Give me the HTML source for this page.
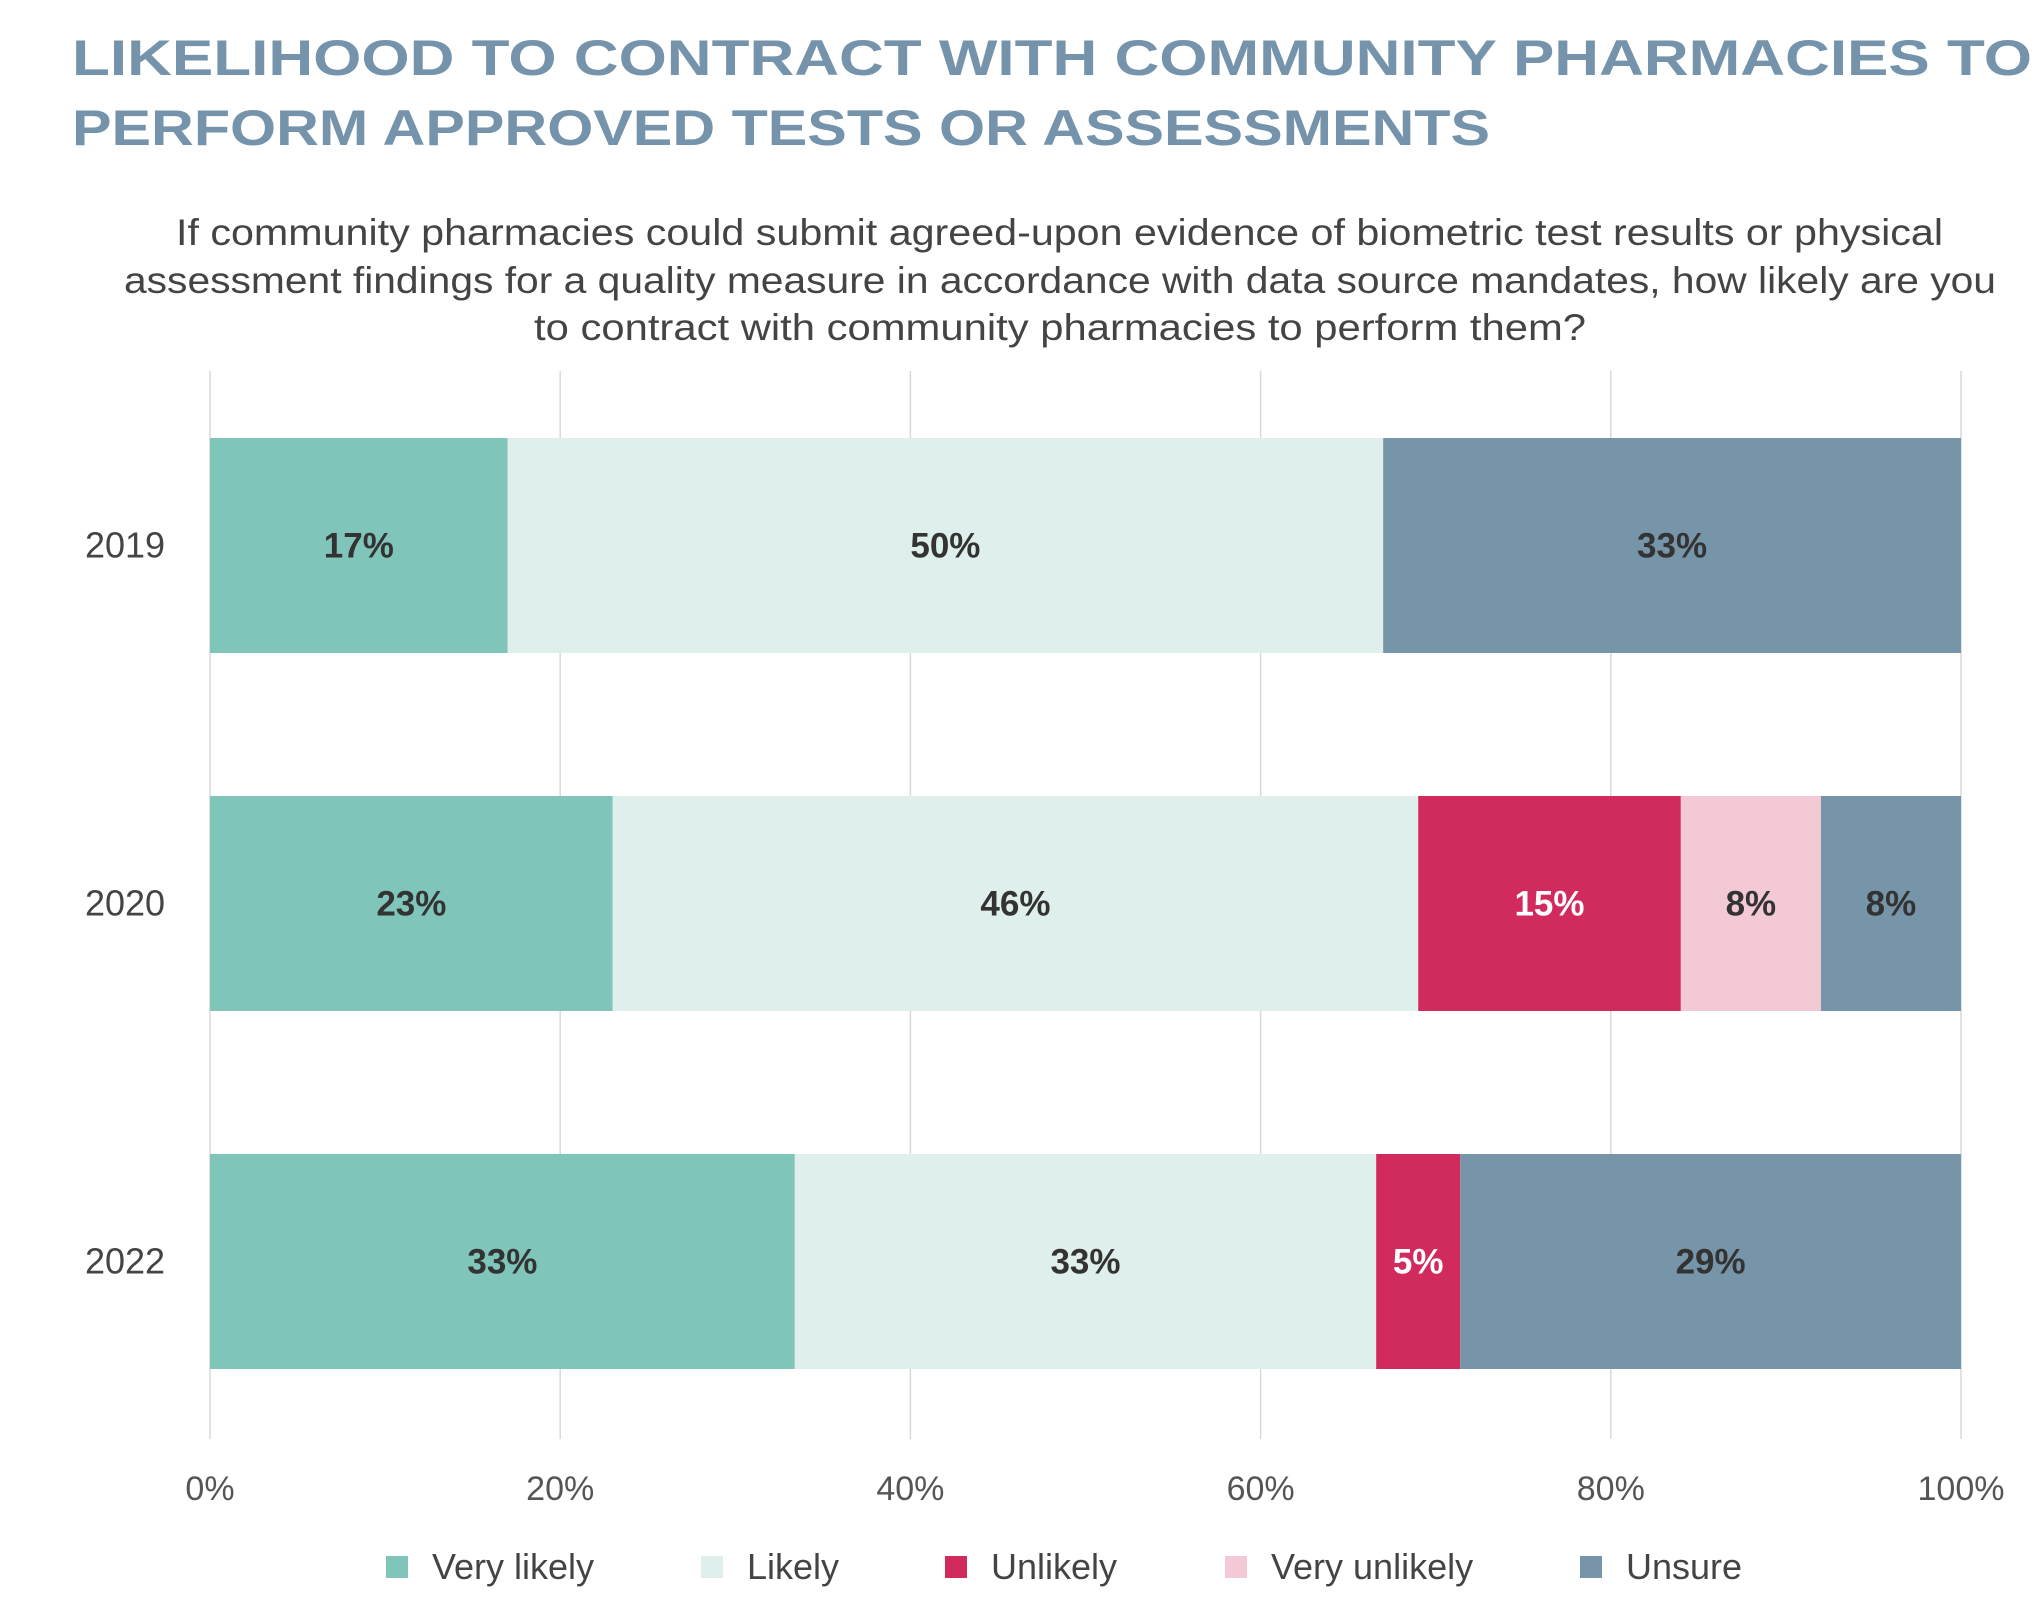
<!DOCTYPE html>
<html><head><meta charset="utf-8"><style>
html,body{margin:0;padding:0;background:#fff;}
svg{display:block;font-family:"Liberation Sans",sans-serif;}
</style></head><body>
<svg id="chart" width="2042" height="1606" viewBox="0 0 2042 1606" xmlns="http://www.w3.org/2000/svg">
<g fill="#7594ab" font-weight="bold" font-size="50">
<text x="72" y="75" textLength="1960" lengthAdjust="spacingAndGlyphs">LIKELIHOOD TO CONTRACT WITH COMMUNITY PHARMACIES TO</text>
<text x="72" y="145" textLength="1418" lengthAdjust="spacingAndGlyphs">PERFORM APPROVED TESTS OR ASSESSMENTS</text>
</g>
<g fill="#444" font-size="37">
<text x="176" y="245" textLength="1767" lengthAdjust="spacingAndGlyphs">If community pharmacies could submit agreed-upon evidence of biometric test results or physical</text>
<text x="124" y="293" textLength="1872" lengthAdjust="spacingAndGlyphs">assessment findings for a quality measure in accordance with data source mandates, how likely are you</text>
<text x="534" y="340" textLength="1052" lengthAdjust="spacingAndGlyphs">to contract with community pharmacies to perform them?</text>
</g>
<g id="grid"></g>
<g id="bars"></g>
<g id="labels"></g>
<g id="legend"></g>
</svg>
<script>
const years = ["2019","2020","2022"];
const seriesNames = ["Very likely","Likely","Unlikely","Very unlikely","Unsure"];
const veryLikely = [17, 23, 33.4];
const likely = [50, 46, 33.2];
const unlikely = [0, 15, 4.8];
const veryUnlikely = [0, 8, 0];
const unsure = [33, 8, 28.6];
const ticks = [0,20,40,60,80,100];
const tickLabels = ["0%","20%","40%","60%","80%","100%"];

const colors = ["#80c5ba","#dff0ec","#d12b5e","#f3c9d6","#7795a8"];
const labelColors = ["#333","#333","#fff","#333","#333"];
const series = [veryLikely, likely, unlikely, veryUnlikely, unsure];
const NS = "http://www.w3.org/2000/svg";
const X0 = 210, X1 = 1961, YT = 371, YB = 1439;
const x = v => X0 + (X1 - X0) * v / 100;
const barH = 215;
const y = i => 438 + i * 358;

function mk(tag, attrs, parent){const e=document.createElementNS(NS,tag);for(const k in attrs)e.setAttribute(k,attrs[k]);parent.appendChild(e);return e;}
const grid=document.getElementById('grid'), bars=document.getElementById('bars'), labels=document.getElementById('labels'), legend=document.getElementById('legend');

ticks.forEach((t,i)=>{
  const l=mk('line',{x1:x(t),x2:x(t),y1:YT,y2:YB,stroke:'#d9d9d9','stroke-width':1.5},grid);
  
  
  const tx=mk('text',{x:x(t),y:1500,'text-anchor':'middle','font-size':34,fill:'#555'},grid);
  tx.textContent=tickLabels[i];
  
  
});

years.forEach((yr,i)=>{
  const yl=mk('text',{x:125,y:y(i)+barH/2+12,'text-anchor':'middle','font-size':36,fill:'#444'},labels);
  yl.textContent=yr;
  
  
  let acc=0;
  series.forEach((s,j)=>{
    const v=s[i];
    if(v>0){
      const r=mk('rect',{x:x(acc),y:y(i),width:x(acc+v)-x(acc),height:barH,fill:colors[j]},bars);
      
      
      const t=mk('text',{x:(x(acc)+x(acc+v))/2,y:y(i)+barH/2+12,'text-anchor':'middle','font-size':35,'font-weight':'bold',fill:labelColors[j]},labels);
      t.textContent=Math.round(v)+'%';
      
      
    }
    acc+=v;
  });
});

const legX=[386,701,945,1225,1580];
seriesNames.forEach((n,j)=>{
  const g=mk('g',{},legend);
  
  
  mk('rect',{x:legX[j],y:1556,width:22,height:22,fill:colors[j]},g);
  const t=mk('text',{x:legX[j]+46,y:1579,'font-size':36,fill:'#444'},g);
  t.textContent=n;
});
</script>
</body></html>
